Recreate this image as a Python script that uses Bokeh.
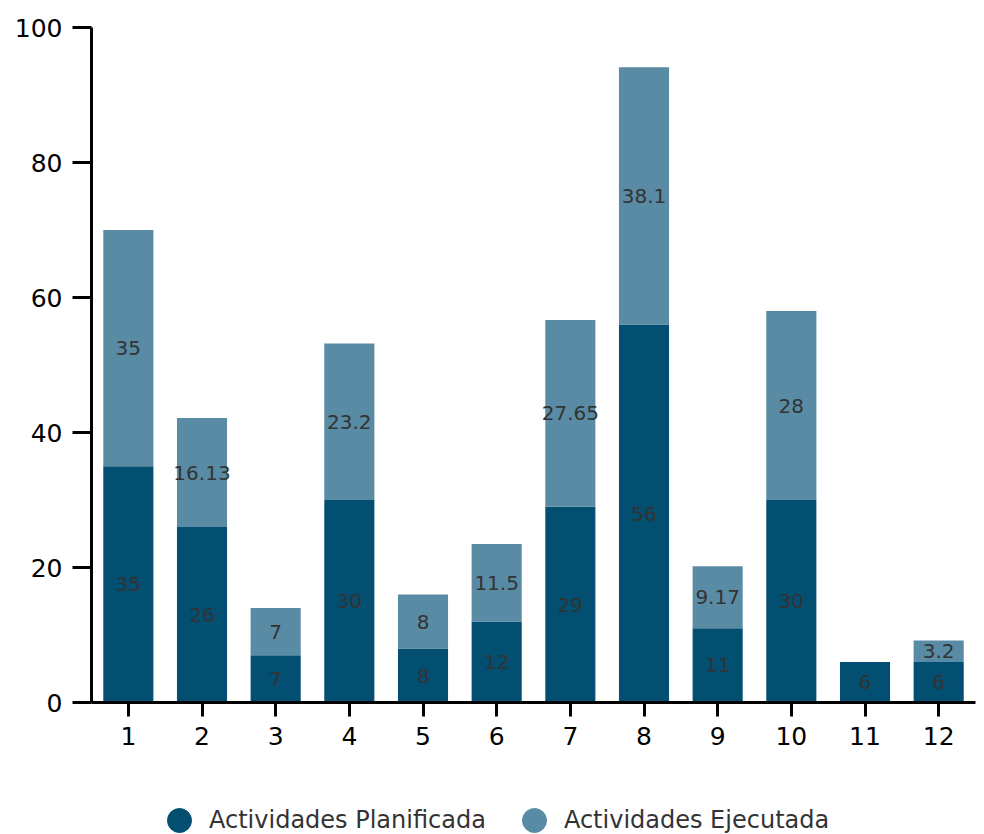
from bokeh.plotting import figure
from bokeh.models import ColumnDataSource, Legend, LegendItem, FactorRange, LabelSet
from bokeh.layouts import column
from bokeh.core.properties import value
from bokeh.embed import file_html
from bokeh.resources import INLINE

categories = ["1", "2", "3", "4", "5", "6", "7", "8", "9", "10", "11", "12"]
planificada = [35, 26, 7, 30, 8, 12, 29, 56, 11, 30, 6, 6]
ejecutada = [35, 16.13, 7, 23.2, 8, 11.5, 27.65, 38.1, 9.17, 28, 0, 3.2]
ejecutada_labels = ["35", "16.13", "7", "23.2", "8", "11.5", "27.65", "38.1", "9.17", "28", "", "3.2"]
planificada_labels = [str(v) for v in planificada]
series_names = ["Actividades Planificada", "Actividades Ejecutada"]
y_ticks = [0, 20, 40, 60, 80, 100]

DARK = "#024f72"
LIGHT = "#598ba5"
FONT = "DejaVu Sans"

top_p = planificada
top_e = [a + b for a, b in zip(planificada, ejecutada)]
mid_p = [a / 2 for a in planificada]
mid_e = [a + b / 2 for a, b in zip(planificada, ejecutada)]

src = ColumnDataSource(dict(x=categories, p=planificada, e=ejecutada, top_p=top_p, top_e=top_e,
                            mid_p=mid_p, mid_e=mid_e, lp=planificada_labels, le=ejecutada_labels))

p = figure(x_range=FactorRange(*categories, range_padding=0), y_range=(0, 100),
           width=976, height=770, output_backend="svg", toolbar_location=None,
           min_border_left=91, min_border_right=1, min_border_top=27, min_border_bottom=68)
p.x_range.range_padding = 0

p.vbar(x="x", bottom=0, top="top_p", width=0.68, source=src, color=DARK, line_color=None)
p.vbar(x="x", bottom="top_p", top="top_e", width=0.68, source=src, color=LIGHT, line_color=None)

for col_y, col_t in (("mid_p", "lp"), ("mid_e", "le")):
    p.add_layout(LabelSet(x="x", y=col_y, text=col_t, source=src, text_align="center",
                          text_baseline="middle", text_font=value(FONT), text_font_size=value("20px"),
                          text_color=value("#333333")))

p.xgrid.visible = False
p.ygrid.visible = False
p.outline_line_color = None

p.yaxis.ticker = y_ticks
p.yaxis.axis_line_width = 3
p.yaxis.major_tick_line_width = 3
p.yaxis.major_tick_out = 19
p.yaxis.major_tick_in = 0
p.yaxis.minor_tick_line_color = None
p.yaxis.major_label_text_font = FONT
p.yaxis.major_label_text_font_size = "25px"
p.yaxis.major_label_text_color = "#000000"
p.yaxis.major_label_standoff = 10

p.xaxis.axis_line_width = 3
p.xaxis.major_tick_line_width = 3
p.xaxis.major_tick_out = 14
p.xaxis.major_tick_in = 0
p.xaxis.major_label_text_font = FONT
p.xaxis.major_label_text_font_size = "25px"
p.xaxis.major_label_text_color = "#000000"
p.xaxis.major_label_standoff = 10

# legend strip below the chart (proxy points lie outside the visible range)
lf = figure(width=976, height=64, output_backend="svg", toolbar_location=None,
            x_range=(0, 1), y_range=(0, 1), min_border=0)
lf.axis.visible = False
lf.grid.visible = False
lf.outline_line_color = None
r1 = lf.scatter(x=[-5], y=[-5], marker="circle", color=DARK)
r2 = lf.scatter(x=[-5], y=[-5], marker="circle", color=LIGHT)
legend = Legend(items=[LegendItem(label=series_names[0], renderers=[r1]),
                       LegendItem(label=series_names[1], renderers=[r2])],
                orientation="horizontal", location=(58, -16), glyph_width=60, glyph_height=60,
                label_standoff=0, spacing=18, padding=0, margin=0,
                border_line_color=None, background_fill_alpha=0,
                label_text_font=FONT, label_text_font_size="24px", label_text_color="#333333")
lf.add_layout(legend, "center")

layout = column(p, lf, spacing=0)
open("out.html", "w").write(file_html(layout, INLINE))
